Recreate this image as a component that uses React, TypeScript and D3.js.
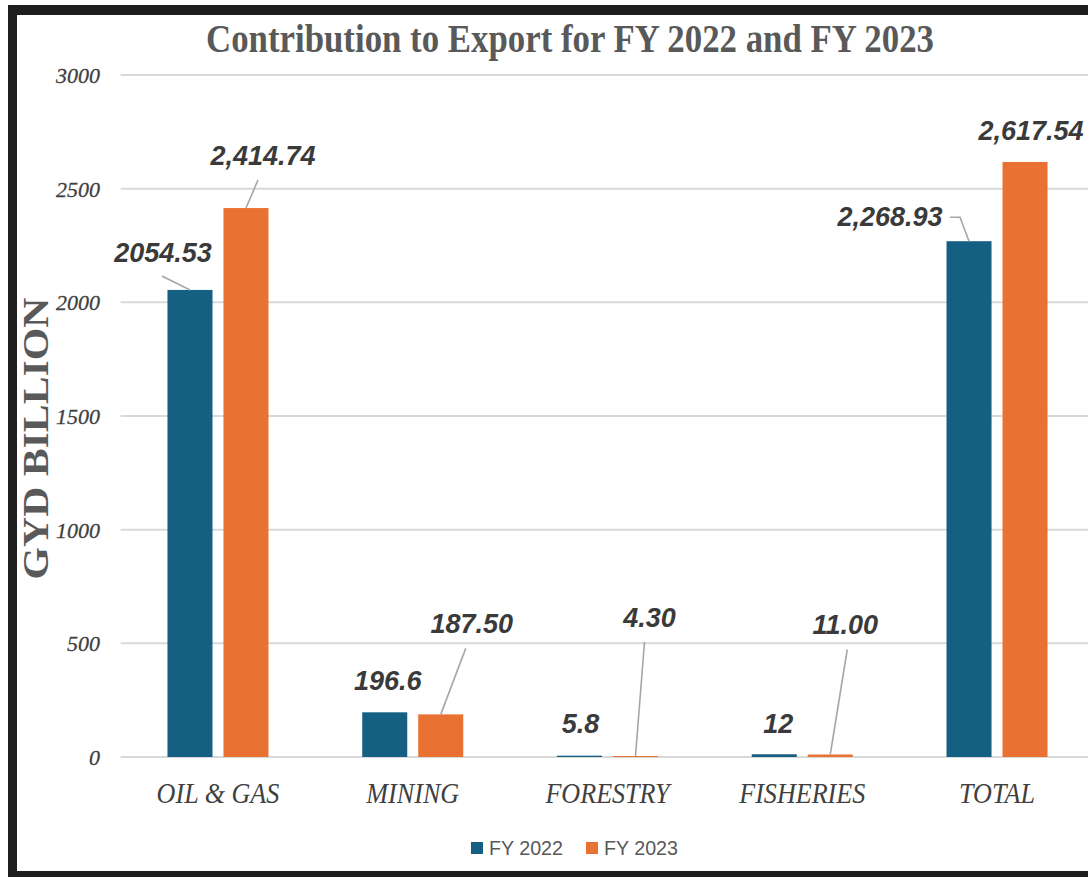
import * as d3 from "d3";

const categories = ["OIL & GAS", "MINING", "FORESTRY", "FISHERIES", "TOTAL"];
const seriesNames = ["FY 2022", "FY 2023"];
const fy2022 = [2054.53, 196.6, 5.8, 12, 2268.93];
const fy2023 = [2414.74, 187.5, 4.3, 11.0, 2617.54];
const fy2022Labels = ["2054.53", "196.6", "5.8", "12", "2,268.93"];
const fy2023Labels = ["2,414.74", "187.50", "4.30", "11.00", "2,617.54"];
const yTicks = [0, 500, 1000, 1500, 2000, 2500, 3000];

// label placement relative to the top centre of each bar (px)
// leader: points the line starts from (and bends at) before reaching the bar
type Place = { dx: number; dy: number; leader: number[][] | null };
const fy2022Place: Place[] = [
  { dx: -27, dy: -28, leader: [[-28, -14]] },
  { dx: 3, dy: -22, leader: null },
  { dx: 1, dy: -23, leader: null },
  { dx: 4, dy: -21, leader: null },
  { dx: -79, dy: -15, leader: [[-19, -24], [-9, -24]] },
];
const fy2023Place: Place[] = [
  { dx: 17, dy: -43, leader: [[12, -28]] },
  { dx: 31, dy: -81, leader: [[25, -66]] },
  { dx: 14, dy: -129, leader: [[9, -114]] },
  { dx: 15, dy: -120, leader: [[17, -105]] },
  { dx: 6, dy: -22, leader: null },
];

const colors = ["#156082", "#E97132"];
const W = 1088;
const H = 877;
const plot = { left: 120.6, right: 1094.4, top: 75, bottom: 757 };

export default function App() {
  const x = d3.scaleBand<string>().domain(categories).range([plot.left, plot.right]);
  const xs = d3
    .scaleBand<string>()
    .domain(seriesNames)
    .range([0, x.bandwidth()])
    .paddingInner(0.196)
    .paddingOuter(0.837);
  const y = d3.scaleLinear().domain([0, 3000]).range([plot.bottom, plot.top]);

  const series = [
    { name: seriesNames[0], values: fy2022, labels: fy2022Labels, place: fy2022Place },
    { name: seriesNames[1], values: fy2023, labels: fy2023Labels, place: fy2023Place },
  ];

  const serif = "'Liberation Serif', 'Times New Roman', serif";
  const sans = "'Liberation Sans', Arial, sans-serif";

  return (
    <svg
      width={W}
      height={H}
      style={{ position: "absolute", left: 0, top: 0, background: "#fff" }}
    >
      <rect x={0} y={0} width={W} height={H} fill="#fff" />

      {/* gridlines */}
      {yTicks.map((t) => (
        <line
          key={t}
          x1={plot.left}
          x2={W}
          y1={y(t)}
          y2={y(t)}
          stroke="#d9d9d9"
          strokeWidth={2}
        />
      ))}
      {yTicks.map((t) => (
        <text
          key={"t" + t}
          x={100}
          y={y(t) + 8}
          textAnchor="end"
          fontFamily={serif}
          fontStyle="italic"
          fontSize={22}
          fill="#3f3f3f"
          stroke="#3f3f3f"
          strokeWidth={0.3}
        >
          {t}
        </text>
      ))}

      {/* bars */}
      {series.map((s, si) =>
        categories.map((c, i) => {
          const bx = (x(c) ?? 0) + (xs(s.name) ?? 0);
          return (
            <rect
              key={s.name + c}
              x={bx}
              y={y(s.values[i])}
              width={xs.bandwidth()}
              height={Math.max(plot.bottom - y(s.values[i]), 0)}
              fill={colors[si]}
            />
          );
        })
      )}

      {/* leaders and data labels */}
      {series.map((s) =>
        categories.map((c, i) => {
          const cx = (x(c) ?? 0) + (xs(s.name) ?? 0) + xs.bandwidth() / 2;
          const cy = y(s.values[i]);
          const p = s.place[i];
          return (
            <g key={"l" + s.name + c}>
              {p.leader && (
                <polyline
                  points={[...p.leader.map((d) => [cx + d[0], cy + d[1]]), [cx, cy]]
                    .map((d) => d.join(","))
                    .join(" ")}
                  fill="none"
                  stroke="#a6a6a6"
                  strokeWidth={1.6}
                />
              )}
              <text
                x={cx + p.dx}
                y={cy + p.dy}
                textAnchor="middle"
                fontFamily={sans}
                fontWeight="bold"
                fontStyle="italic"
                fontSize={27}
                fill="#3a3a3a"
              >
                {s.labels[i]}
              </text>
            </g>
          );
        })
      )}

      {/* category labels, slightly condensed like the original */}
      {categories.map((c) => (
        <text
          key={"c" + c}
          transform={`translate(${(x(c) ?? 0) + x.bandwidth() / 2}, 803) scale(0.9, 1)`}
          textAnchor="middle"
          fontFamily={serif}
          fontStyle="italic"
          fontSize={29}
          fill="#404040"
        >
          {c}
        </text>
      ))}

      {/* title */}
      <text
        x={570}
        y={52}
        textAnchor="middle"
        fontFamily={serif}
        fontWeight="bold"
        fontSize={40}
        fill="#595959"
        textLength={728}
        lengthAdjust="spacingAndGlyphs"
      >
        Contribution to Export for FY 2022 and FY 2023
      </text>

      {/* y axis title */}
      <text
        transform={`translate(48, ${(297 + 580) / 2}) rotate(-90)`}
        textAnchor="middle"
        fontFamily={serif}
        fontWeight="bold"
        fontSize={35}
        fill="#595959"
        textLength={282}
        lengthAdjust="spacingAndGlyphs"
      >
        GYD BILLION
      </text>

      {/* legend */}
      {seriesNames.map((n, i) => (
        <g key={"lg" + n} transform={`translate(${471 + i * 115}, 842)`}>
          <rect x={0} y={0} width={12} height={12} fill={colors[i]} />
          <text
            x={18}
            y={13}
            fontFamily={sans}
            fontSize={20}
            fill="#595959"
            textLength={74}
            lengthAdjust="spacingAndGlyphs"
          >
            {n}
          </text>
        </g>
      ))}

      {/* outer frame */}
      <rect x={8} y={5} width={W - 8} height={10} fill="#1e1e1e" />
      <rect x={8} y={5} width={9} height={H - 5} fill="#1e1e1e" />
      <rect x={8} y={871} width={W - 8} height={6} fill="#1e1e1e" />
    </svg>
  );
}
